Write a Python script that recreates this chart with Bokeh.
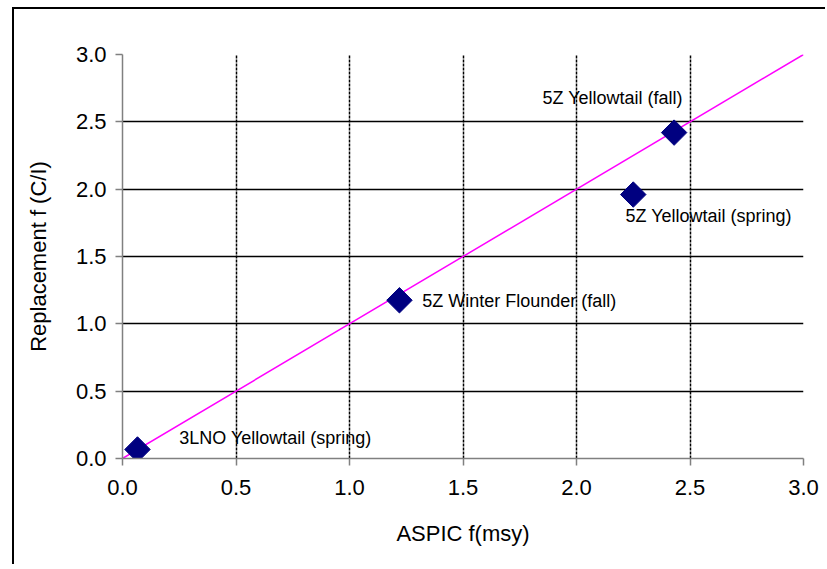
import numpy as np
from bokeh.plotting import figure
from bokeh.layouts import column
from bokeh.models import ColumnDataSource, FixedTicker, NumeralTickFormatter, Range1d
from bokeh.core.properties import value
from bokeh.embed import file_html
from bokeh.resources import INLINE

# data
stocks = ["3LNO Yellowtail (spring)", "5Z Winter Flounder (fall)",
          "5Z Yellowtail (fall)", "5Z Yellowtail (spring)"]
aspic_fmsy = [0.066, 1.22, 2.43, 2.25]
replacement_f = [0.067, 1.175, 2.42, 1.96]
label_x = [0.25, 1.32, 1.85, 2.216]
label_y = [0.15, 1.166, 2.68, 1.80]
ticks = [0.0, 0.5, 1.0, 1.5, 2.0, 2.5, 3.0]
line_x = [0.0, 3.0]
line_y = [0.0, 3.0]

FONT = "Liberation Sans"

p = figure(width=811, height=555, output_backend="svg", toolbar_location=None,
           x_range=Range1d(0, 3), y_range=Range1d(0, 3),
           min_border_left=108, min_border_right=22, min_border_top=45,
           min_border_bottom=106)
p.outline_line_color = None
p.background_fill_color = "white"
p.border_fill_color = "white"

# grid
p.xgrid.ticker = FixedTicker(ticks=ticks)
p.ygrid.ticker = FixedTicker(ticks=ticks)
p.xgrid.grid_line_color = "black"
p.xgrid.grid_line_width = 1.5
p.xgrid.grid_line_dash = "3 1"
p.ygrid.grid_line_color = "black"
p.ygrid.grid_line_width = 1.5

# axes
for ax in (p.xaxis, p.yaxis):
    ax.ticker = FixedTicker(ticks=ticks)
    ax.formatter = NumeralTickFormatter(format="0.0")
    ax.axis_line_color = "#808080"
    ax.axis_line_width = 1.5
    ax.major_tick_line_color = "#808080"
    ax.major_tick_line_width = 1.5
    ax.major_tick_out = 7
    ax.major_tick_in = 0
    ax.minor_tick_line_color = None
    ax.major_label_text_font = FONT
    ax.major_label_text_font_size = "22px"
    ax.major_label_text_color = "black"
    ax.axis_label_text_font = FONT
    ax.axis_label_text_font_size = "22px"
    ax.axis_label_text_font_style = "normal"
    ax.axis_label_text_color = "black"

p.xaxis.axis_label = "ASPIC f(msy)"
p.yaxis.axis_label = "Replacement f (C/I)"
p.xaxis.major_label_standoff = 14
p.yaxis.major_label_standoff = 9
p.xaxis.axis_label_standoff = 23
p.yaxis.axis_label_standoff = 22

# 1:1 line
p.line(line_x, line_y, line_color="#FF00FF", line_width=1.5)

# points
src = ColumnDataSource(dict(x=aspic_fmsy, y=replacement_f, lx=label_x, ly=label_y, name=stocks))
p.scatter("x", "y", source=src, marker="square", angle=np.pi / 4, size=18,
          fill_color="#000080", line_color="#000080")

p.text("lx", "ly", text="name", source=src, text_font=value(FONT),
       text_font_size="18px", text_color="black",
       text_align="left", text_baseline="middle")

layout = column(p, margin=(7, 0, 0, 12),
                styles={"border-left": "2px solid black", "border-top": "2px solid black"})

open("out.html", "w").write(file_html(layout, INLINE))
